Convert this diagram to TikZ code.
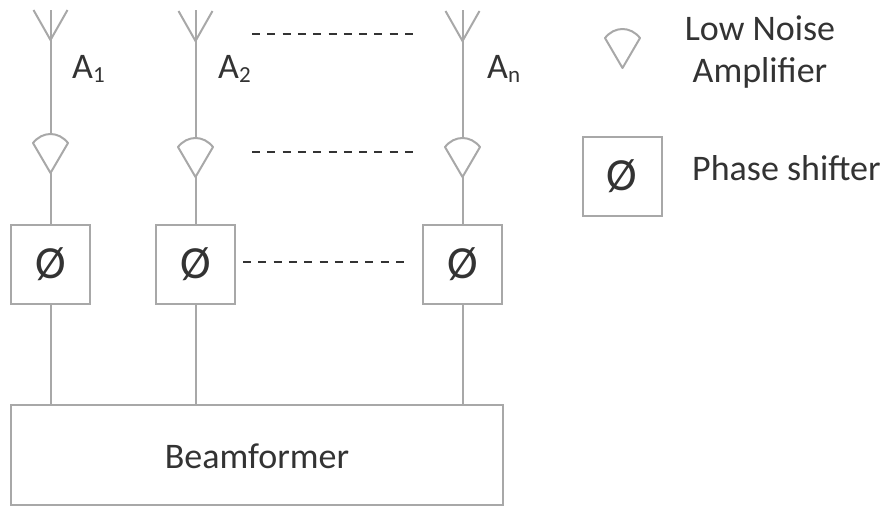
\documentclass[tikz,border=0pt]{standalone}
\usepackage{fontspec}
\setmainfont{Carlito}
\def\lab#1{A{\fontsize{23}{23}\selectfont\raisebox{-4pt}{#1}}}
\definecolor{wire}{gray}{0.66}
\definecolor{ink}{gray}{0.2}
\tikzset{
  wireline/.style={draw=wire, line width=2pt},
  dashline/.style={draw=ink, line width=1.2pt, dash pattern=on 8pt off 7.3pt},
  phasebox/.style={wireline, fill=white, minimum size=79pt, inner sep=0pt, text=ink, font=\fontsize{46}{46}\selectfont},
  txt/.style={text=ink, font=\fontsize{36}{42}\selectfont, inner sep=0pt},
  lna/.pic={\draw[wireline, line join=round] (-17.5,0) .. controls (-8,-12) and (8,-12) .. (17.5,0) -- (0,30) -- cycle;},
  antenna/.pic={\draw[wireline] (-17,-30) -- (0,0) -- (17,-30);}
}
\begin{document}
\begin{tikzpicture}[x=1pt, y=-1pt]
\useasboundingbox (0,0) rectangle (885,507);
% Beamformer
\node[wireline, minimum width=492pt, minimum height=100pt, inner sep=0pt] (bf) at (257,455) {};
\node[txt] (bftext) at (257,456) {Beamformer};
% Phase shifters
\node[phasebox] (ps1) at (50.5,264.5) {Ø};
\node[phasebox] (ps2) at (195.5,264.5) {Ø};
\node[phasebox] (ps3) at (462.5,264.5) {Ø};
% Antenna branches: column, top of amplifier, tip of amplifier
\foreach \n/\x/\t/\s in {1/50.5/143/40, 2/195.5/147/41, 3/462.5/147/41} {
  \coordinate (top\n) at (\x,10);
  \coordinate (in\n) at (\x,\t-9);
  \coordinate (out\n) at (\x,\t+30);
  \draw[wireline] (top\n) -- (in\n);
  \draw (\x,\s) pic {antenna};
  \draw (\x,\t) pic {lna};
  \draw[wireline] (out\n) -- (ps\n);
  \draw[wireline] (ps\n.south) -- (ps\n.south |- bf.north);
}
% Labels of antennas
\node[txt, anchor=base west] (a1) at (72,78) {\lab{1}};
\node[txt, anchor=base west] (a2) at (218,78) {\lab{2}};
\node[txt, anchor=base west] (an) at (487,78) {\lab{n}};
% Dots between the columns
\coordinate (d1) at (252,34);  \coordinate (d2) at (413,34);
\coordinate (d3) at (252,152); \coordinate (d4) at (413,152);
\coordinate (d5) at (243,262); \coordinate (d6) at (405,262);
\draw[dashline] (d1) -- (d2);
\draw[dashline] (d3) -- (d4);
\draw[dashline] (d5) -- (d6);
% Legend
\draw (622.5,38) pic {lna};
\node[txt, align=center] (lnatext) at (760,52) {Low Noise\\Amplifier};
\node[phasebox] (pslegend) at (622,176.5) {Ø};
\node[txt, anchor=west] (pstext) at (692,168) {Phase shifter};
\end{tikzpicture}
\end{document}
